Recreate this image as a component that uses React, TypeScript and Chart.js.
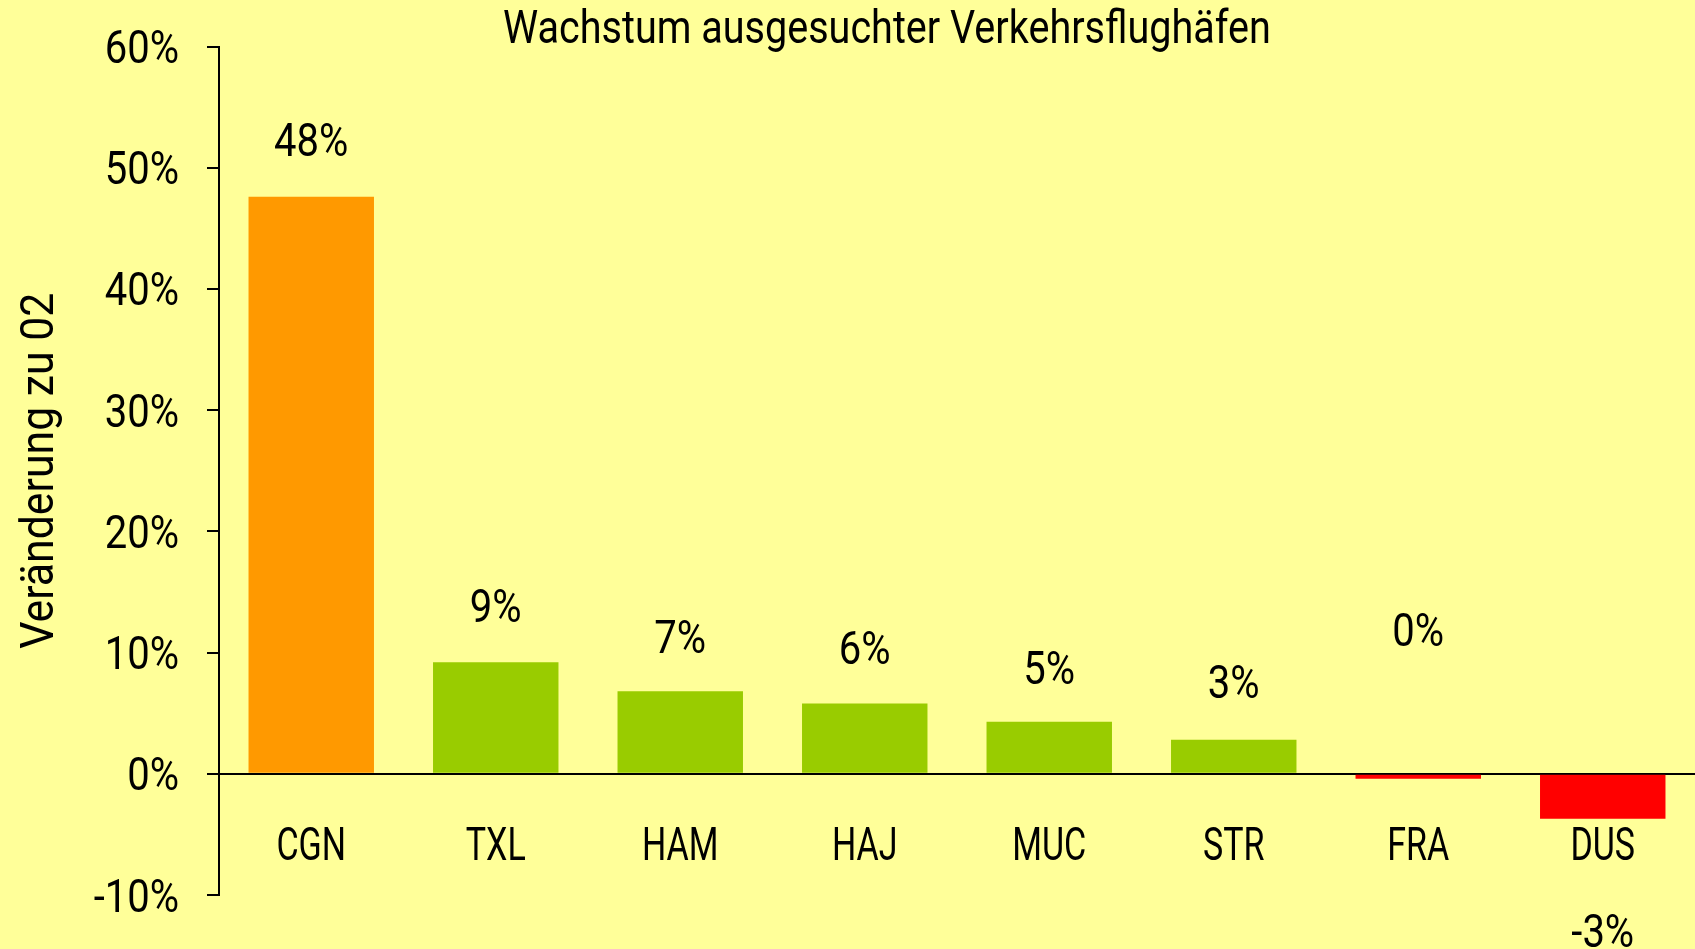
import React, { useEffect, useRef } from 'react';
import { Chart, registerables } from 'chart.js';

Chart.register(...registerables);

const categories = ['CGN', 'TXL', 'HAM', 'HAJ', 'MUC', 'STR', 'FRA', 'DUS'];
const growth = [47.6, 9.2, 6.8, 5.8, 4.3, 2.8, -0.4, -3.7];
const valueLabels = ['48%', '9%', '7%', '6%', '5%', '3%', '0%', '-3%'];
const labelAt = [52.3, 13.9, 11.3, 10.4, 8.8, 7.6, 11.9, -12.9];
const barColors = ['#FF9900', '#99CC00', '#99CC00', '#99CC00', '#99CC00', '#99CC00', '#FF0000', '#FF0000'];
const yMin = -10;
const yMax = 60;
const yStep = 10;

const TITLE = 'Wachstum ausgesuchter Verkehrsflughäfen';
const Y_TITLE = 'Veränderung zu 02';
const FONT = '400 46px Roboto, "DejaVu Sans Condensed", sans-serif';
const CAP = 33; // cap height of the text, px
const BG = '#FFFF99';

// horizontal condensing per text kind
const SX_TITLE = 0.86;
const SX_NUM = 0.87;
const SX_CAT = 0.74;
const SX_YTITLE = 0.93;

function drawText(
  ctx: CanvasRenderingContext2D,
  text: string,
  x: number,
  y: number,
  align: CanvasTextAlign,
  sx: number,
  rotation = 0
) {
  ctx.save();
  ctx.translate(x, y);
  if (rotation) ctx.rotate(rotation);
  ctx.scale(sx, 1);
  ctx.textAlign = align;
  ctx.textBaseline = 'alphabetic';
  ctx.fillText(text, 0, 0);
  ctx.restore();
}

const textPlugin = {
  id: 'condensedText',
  afterDraw(chart: any) {
    const { ctx, chartArea } = chart;
    const xs = chart.scales.x;
    const ys = chart.scales.y;
    const meta = chart.getDatasetMeta(0);
    ctx.save();
    ctx.font = FONT;
    ctx.fillStyle = '#000';

    // chart title
    drawText(ctx, TITLE, 887, 43, 'center', SX_TITLE);

    // y tick labels
    ys.ticks.forEach((t: any) => {
      drawText(ctx, `${t.value}%`, chartArea.left - 40, ys.getPixelForValue(t.value) + CAP / 2, 'right', SX_NUM);
    });

    // y axis title
    drawText(ctx, Y_TITLE, 53, (chartArea.top + chartArea.bottom) / 2, 'center', SX_YTITLE, -Math.PI / 2);

    // category labels
    const zeroY = ys.getPixelForValue(0);
    categories.forEach((c, i) => {
      drawText(ctx, c, xs.getPixelForTick(i), zeroY + 86, 'center', SX_CAT);
    });

    // value labels
    meta.data.forEach((bar: any, i: number) => {
      drawText(ctx, valueLabels[i], bar.x, ys.getPixelForValue(labelAt[i]) + CAP / 2, 'center', SX_NUM);
    });
    ctx.restore();
  },
};

export default function App() {
  const canvasRef = useRef<HTMLCanvasElement | null>(null);

  useEffect(() => {
    if (!canvasRef.current) return;
    const chart = new Chart(canvasRef.current, {
      type: 'bar',
      data: {
        labels: categories,
        datasets: [
          {
            data: growth,
            backgroundColor: barColors,
            borderWidth: 0,
            barPercentage: 0.68,
            categoryPercentage: 1,
          },
        ],
      },
      options: {
        animation: false,
        responsive: true,
        maintainAspectRatio: false,
        layout: { padding: { top: 46.5, bottom: 54, left: 0, right: 0 } },
        plugins: {
          legend: { display: false },
          tooltip: { enabled: false },
          title: { display: false },
        },
        scales: {
          x: {
            type: 'category',
            position: { y: 0 } as any,
            z: 1,
            grid: { display: false, drawTicks: false, tickLength: 0 },
            border: { display: true, color: '#000', width: 2 },
            ticks: { display: false, autoSkip: false },
          },
          y: {
            min: yMin,
            max: yMax,
            position: 'left',
            afterFit: (s: any) => {
              s.width = 219;
            },
            grid: {
              drawOnChartArea: false,
              drawTicks: true,
              tickLength: 12,
              color: '#000',
              lineWidth: 2,
            },
            border: { display: true, color: '#000', width: 2 },
            ticks: { stepSize: yStep, display: false },
            title: { display: false },
          },
        },
      },
      plugins: [textPlugin],
    });
    return () => chart.destroy();
  }, []);

  return (
    <div
      style={{
        position: 'fixed',
        left: 0,
        top: 0,
        width: 1695,
        height: 949,
        background: BG,
      }}
    >
      <canvas ref={canvasRef} />
    </div>
  );
}
